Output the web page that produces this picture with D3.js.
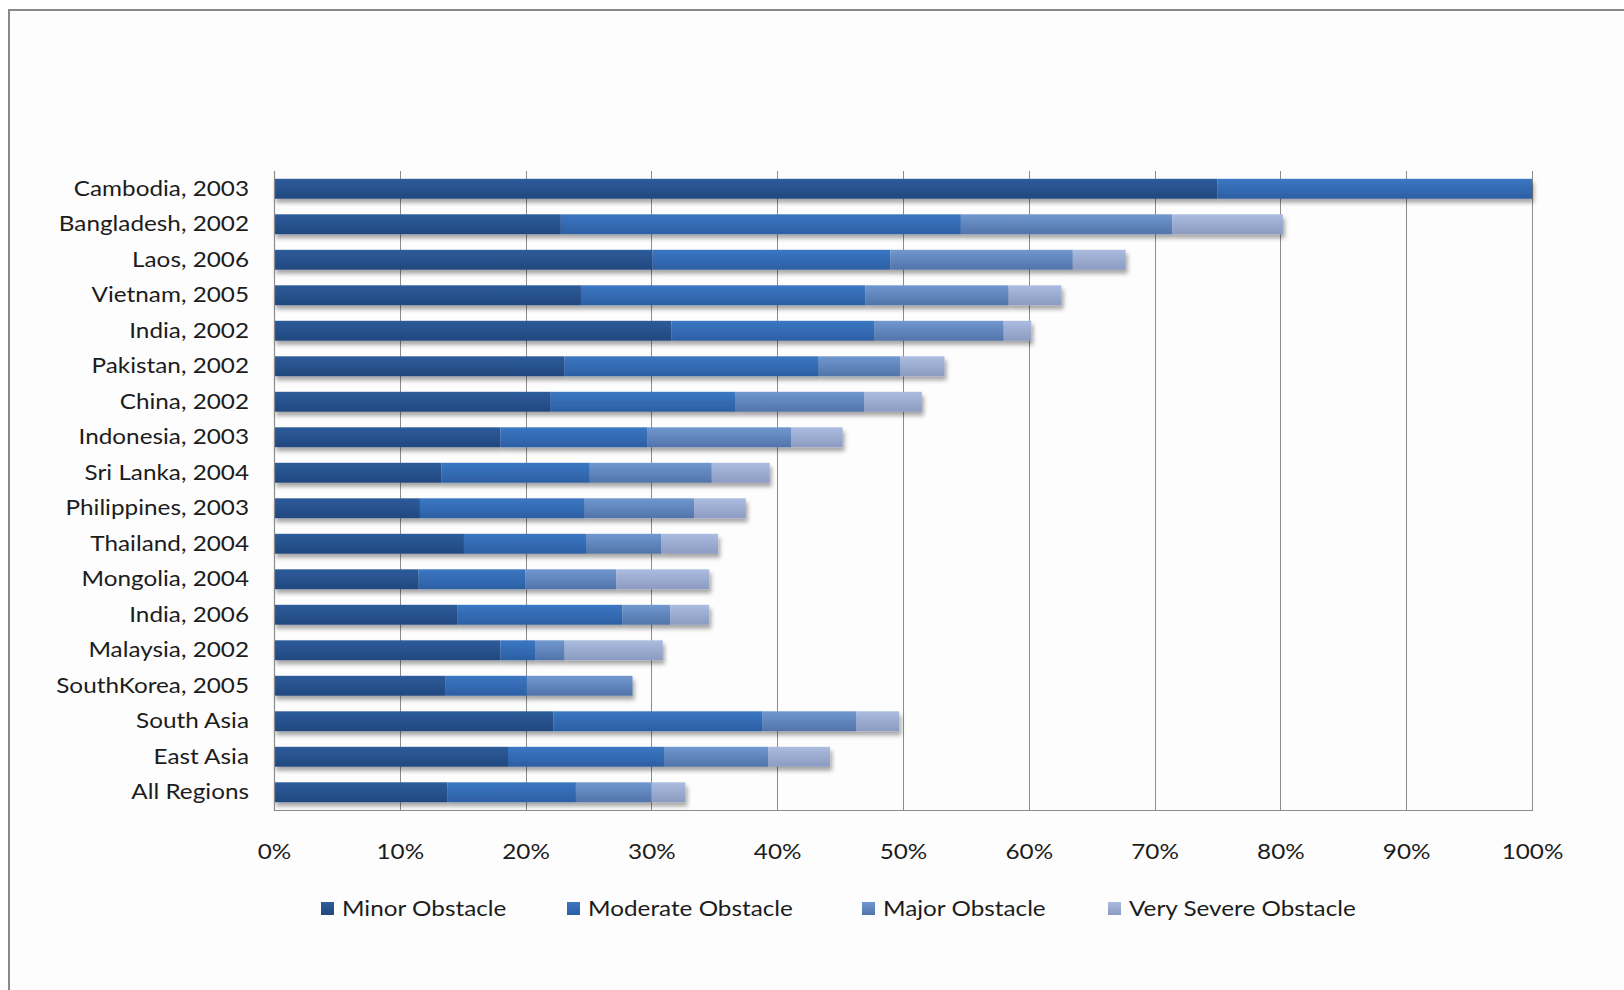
<!DOCTYPE html>
<html>
<head>
<meta charset="utf-8">
<script src="https://cdn.jsdelivr.net/npm/d3@7"></script>
<style>
  html, body { margin: 0; padding: 0; background: #ffffff; }
  svg { display: block; }
  text { font-family: Lato, "Noto Sans", sans-serif; fill: #1c1c1c; }
</style>
</head>
<body>
<svg id="chart" width="1624" height="990"></svg>
<script>
// ---- data (percent of firms) ----
const categories = [
  "Cambodia, 2003", "Bangladesh, 2002", "Laos, 2006", "Vietnam, 2005",
  "India, 2002", "Pakistan, 2002", "China, 2002", "Indonesia, 2003",
  "Sri Lanka, 2004", "Philippines, 2003", "Thailand, 2004", "Mongolia, 2004",
  "India, 2006", "Malaysia, 2002", "SouthKorea, 2005", "South Asia",
  "East Asia", "All Regions"
];
const seriesNames = ["Minor Obstacle", "Moderate Obstacle", "Major Obstacle", "Very Severe Obstacle"];
const minorObstacle    = [75.0, 22.8, 30.1, 24.4, 31.6, 23.1, 22.0, 18.0, 13.3, 11.6, 15.1, 11.5, 14.6, 18.0, 13.6, 22.2, 18.6, 13.8];
const moderateObstacle = [25.0, 31.8, 18.9, 22.6, 16.1, 20.2, 14.7, 11.7, 11.8, 13.1,  9.7,  8.5, 13.1,  2.8,  6.5, 16.6, 12.4, 10.2];
const majorObstacle    = [ 0.0, 16.8, 14.5, 11.4, 10.3,  6.5, 10.2, 11.4,  9.7,  8.7,  6.0,  7.2,  3.8,  2.3,  8.4,  7.5,  8.3,  6.0];
const severeObstacle   = [ 0.0,  8.8,  4.2,  4.2,  2.2,  3.5,  4.6,  4.1,  4.6,  4.1,  4.5,  7.4,  3.1,  7.8,  0.0,  3.4,  4.9,  2.7];
const xTicks = [0, 10, 20, 30, 40, 50, 60, 70, 80, 90, 100];

// ---- styles ----
const colorsTop    = ["#2d5c9b", "#3b77c3", "#7098cf", "#abbce0"];
const colorsBottom = ["#21487e", "#2c5fa3", "#5174aa", "#8c9bc1"];
const FONT_SIZE = 21.5;
const STRETCH = 1.13;

const rows = categories.map((c, i) => ({
  cat: c,
  "Minor Obstacle": minorObstacle[i],
  "Moderate Obstacle": moderateObstacle[i],
  "Major Obstacle": majorObstacle[i],
  "Very Severe Obstacle": severeObstacle[i]
}));

const svg = d3.select("#chart");
const defs = svg.append("defs");

seriesNames.forEach((s, i) => {
  const g = defs.append("linearGradient").attr("id", "grad" + i)
    .attr("x1", 0).attr("y1", 0).attr("x2", 0).attr("y2", 1);
  g.append("stop").attr("offset", "0%").attr("stop-color", colorsTop[i]);
  g.append("stop").attr("offset", "100%").attr("stop-color", colorsBottom[i]);
});
const f = defs.append("filter").attr("id", "shadow")
  .attr("x", "-5%").attr("y", "-30%").attr("width", "110%").attr("height", "190%");
f.append("feDropShadow").attr("dx", 2).attr("dy", 4).attr("stdDeviation", 2.2)
  .attr("flood-color", "#000").attr("flood-opacity", 0.35);

// chart background + frame
svg.append("rect").attr("x", 9).attr("y", 10).attr("width", 1700).attr("height", 1100)
  .attr("fill", "#fdfdfd").attr("stroke", "#8a8a8a").attr("stroke-width", 2);

const margin = { left: 274, right: 1532, top: 171, bottom: 810 };

const x = d3.scaleLinear().domain([0, 100]).range([margin.left, margin.right]);
const y = d3.scaleBand().domain(categories).range([margin.top, margin.bottom]).paddingInner(0.44).paddingOuter(0.22);

// gridlines
svg.append("g").selectAll("line").data(xTicks).join("line")
  .attr("x1", d => Math.round(x(d)) + 0.5).attr("x2", d => Math.round(x(d)) + 0.5)
  .attr("y1", margin.top).attr("y2", margin.bottom)
  .attr("stroke", "#8c8c8c").attr("stroke-width", 1);

// bottom axis line
svg.append("line").attr("x1", margin.left).attr("x2", margin.right + 1)
  .attr("y1", margin.bottom + 0.5).attr("y2", margin.bottom + 0.5)
  .attr("stroke", "#8c8c8c").attr("stroke-width", 1.2);

// stacked bars
const stack = d3.stack().keys(seriesNames);
const stacked = stack(rows);

const barRows = svg.append("g").selectAll("g.row").data(categories).join("g")
  .attr("class", "row").attr("filter", "url(#shadow)");

barRows.each(function (cat, ri) {
  const g = d3.select(this);
  stacked.forEach((layer, si) => {
    const d = layer[ri];
    const w = x(d[1]) - x(d[0]);
    if (w <= 0) return;
    g.append("rect")
      .attr("x", x(d[0])).attr("width", w)
      .attr("y", y(cat)).attr("height", y.bandwidth())
      .attr("fill", "url(#grad" + si + ")");
  });
});

// x axis tick labels
const xAxis = d3.axisBottom(x).tickValues(xTicks).tickFormat(d => d + "%").tickSize(0).tickPadding(0);
const xg = svg.append("g").attr("transform", `translate(0, 859)`).call(xAxis);
xg.select(".domain").remove();
xg.selectAll("text").attr("font-size", FONT_SIZE).attr("font-family", "Lato, sans-serif")
  .attr("fill", "#1c1c1c").attr("dy", "0.0em").attr("y", 0)
  .attr("transform", `scale(${STRETCH},1)`);

// y axis labels
const yAxis = d3.axisLeft(y).tickSize(0).tickPadding(0);
const yg = svg.append("g").attr("transform", `translate(249, 0)`).call(yAxis);
yg.select(".domain").remove();
yg.selectAll("text").attr("font-size", FONT_SIZE).attr("font-family", "Lato, sans-serif")
  .attr("fill", "#1c1c1c").attr("transform", `scale(${STRETCH},1)`);

// left axis line
svg.append("line").attr("x1", margin.left + 0.5).attr("x2", margin.left + 0.5)
  .attr("y1", margin.top).attr("y2", margin.bottom + 1)
  .attr("stroke", "#8c8c8c").attr("stroke-width", 1.2);

// legend
const legendX = [321, 567, 862, 1108];
const leg = svg.append("g").selectAll("g").data(seriesNames).join("g")
  .attr("transform", (d, i) => `translate(${legendX[i]}, 902)`);
leg.append("rect").attr("width", 13).attr("height", 13)
  .attr("fill", (d, i) => "url(#grad" + i + ")");
leg.append("text").attr("transform", `translate(21, 6.5) scale(${STRETCH},1)`).attr("dy", "0.35em")
  .attr("font-size", FONT_SIZE).text(d => d);
</script>
</body>
</html>
